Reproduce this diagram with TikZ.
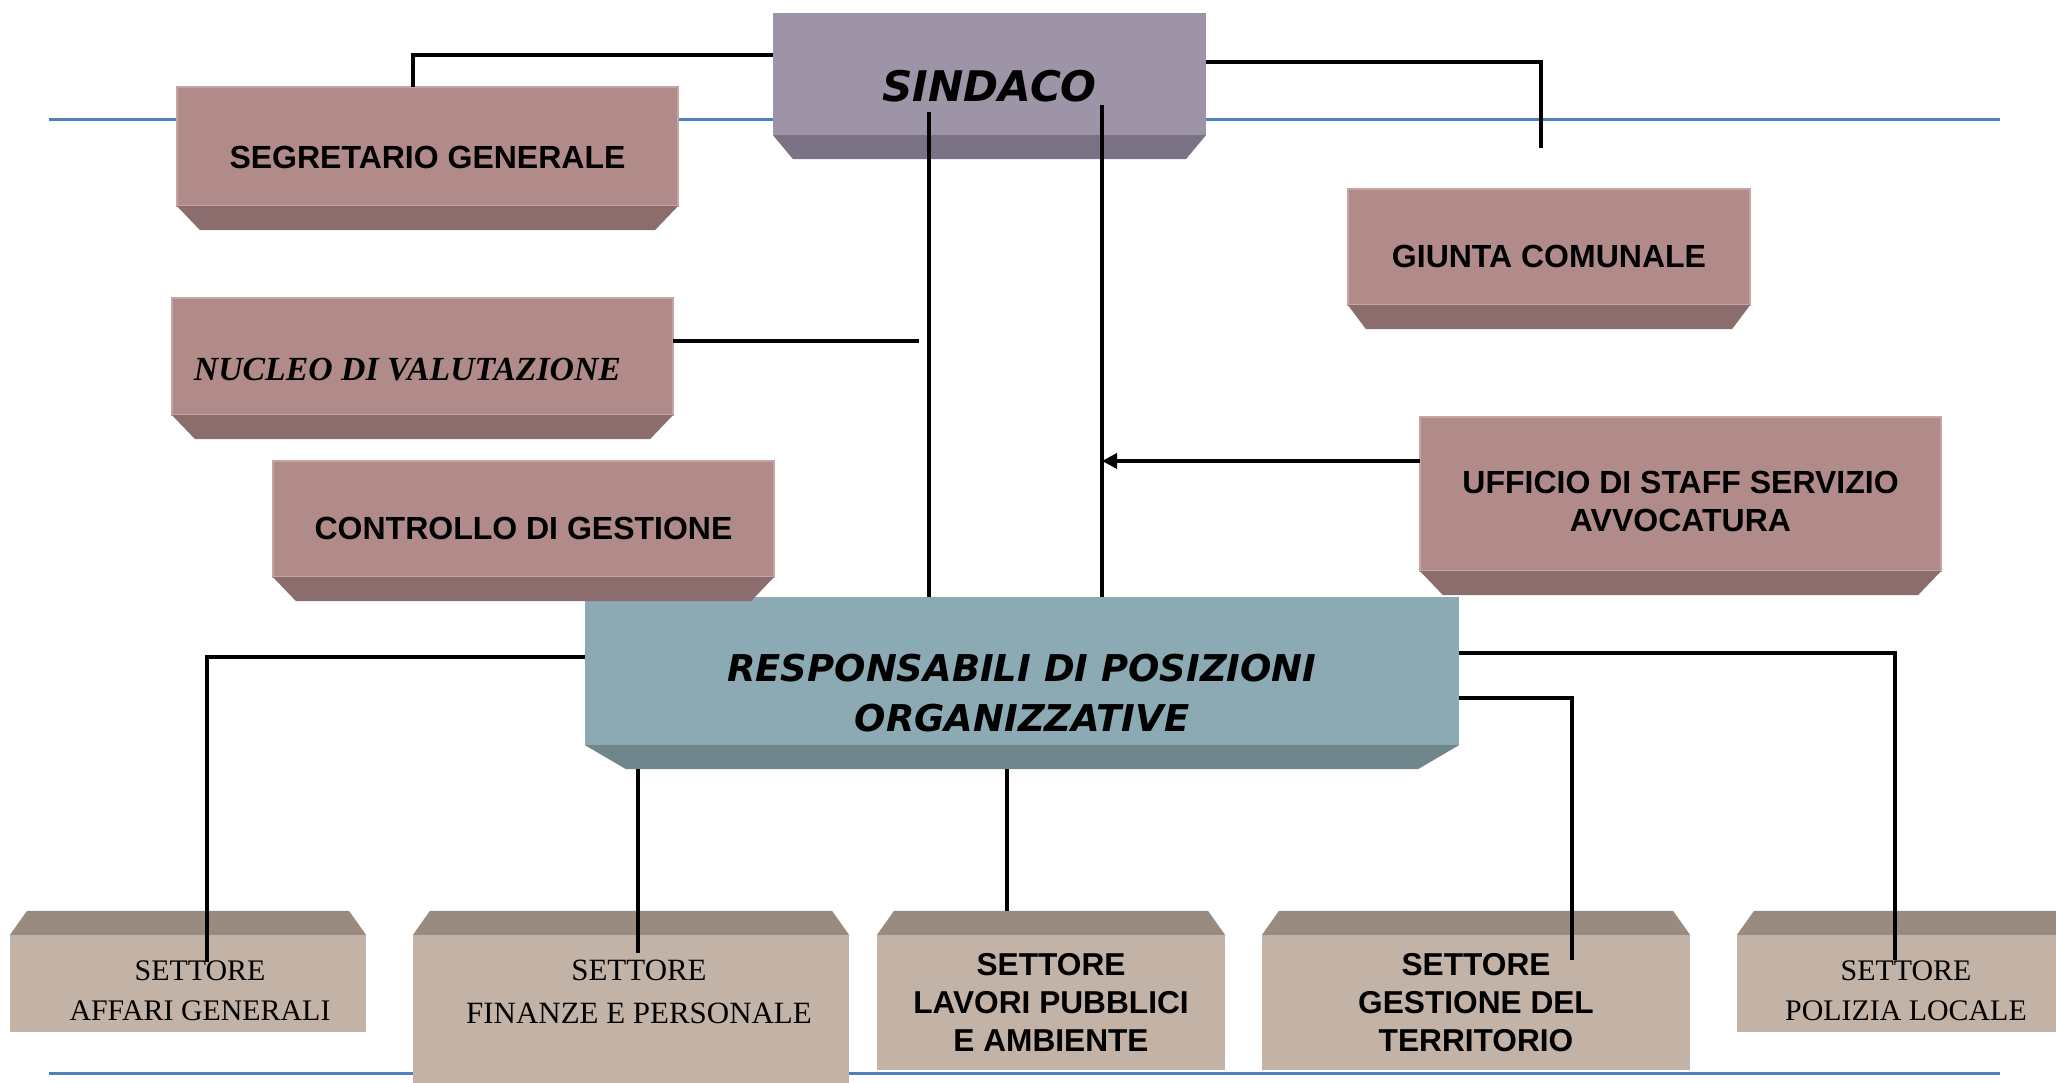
\documentclass[tikz,border=0pt]{standalone}
\usepackage{fontspec}
\setmainfont{Liberation Sans}
\newfontfamily\serifface{Liberation Serif}
\newfontfamily\heavyface{DejaVu Sans}
\usetikzlibrary{calc,arrows.meta}

\definecolor{lavfront}{HTML}{9E94A7}
\definecolor{lavside}{HTML}{7B7385}
\definecolor{pinkfront}{HTML}{B08B8A}
\definecolor{pinkside}{HTML}{8A6D6C}
\definecolor{pinkedge}{HTML}{C7A3A2}
\definecolor{tealfront}{HTML}{8BAAB4}
\definecolor{tealside}{HTML}{6E868C}
\definecolor{tanfront}{HTML}{C3B2A6}
\definecolor{tanside}{HTML}{998B80}
\definecolor{rulecol}{HTML}{4F81BD}

\begin{document}
\begin{tikzpicture}[x=0.01cm,y=-0.01cm,
  box/.style={rectangle,inner sep=0pt,outer sep=0pt,align=center,text depth=0pt},
  lavbox/.style={box,fill=lavfront,font=\heavyface\bfseries\itshape\fontsize{12}{14}\selectfont},
  pinkbox/.style={box,fill=pinkfront,draw=pinkedge,line width=0.4pt,font=\fontsize{9.1}{10}\selectfont\bfseries},
  tealbox/.style={box,fill=tealfront,font=\heavyface\bfseries\itshape\fontsize{10.5}{14.2}\selectfont},
  tanbox/.style={box,fill=tanfront},
  conn/.style={line width=1pt,black},
  rule/.style={line width=0.85pt,rulecol}]
  \useasboundingbox (0,0) rectangle (2056,1083);

  % blue rules behind everything
  \draw[rule] (49,120) -- (2000,120);
  \draw[rule] (49,1074) -- (2000,1074);

  % top level
  \node[lavbox,minimum width=4.33cm,minimum height=1.22cm,text height=15.9pt] (sindaco) at (989.5,74) {SINDACO};
  \node[pinkbox,minimum width=5.01cm,minimum height=1.19cm,text height=12.8pt] (segretario) at (427.5,146.5) {SEGRETARIO GENERALE};
  \node[pinkbox,minimum width=4.02cm,minimum height=1.16cm,text height=11.9pt] (giunta) at (1549,247) {GIUNTA COMUNALE};
  \node[pinkbox,minimum width=5.01cm,minimum height=1.17cm,text height=13.4pt,
        font=\serifface\bfseries\itshape\fontsize{9.6}{11}\selectfont] (nucleo) at (422.5,356.5) {NUCLEO DI VALUTAZIONE\hspace*{3mm}};
  \node[pinkbox,minimum width=5.01cm,minimum height=1.16cm,text height=11.9pt] (controllo) at (523.5,519) {CONTROLLO DI GESTIONE};
  \node[pinkbox,minimum width=5.21cm,minimum height=1.54cm,text height=21.3pt,
        font=\fontsize{9.1}{10.8}\selectfont\bfseries] (ufficio) at (1680.5,494) {UFFICIO DI STAFF SERVIZIO\\AVVOCATURA};
  \node[tealbox,minimum width=8.74cm,minimum height=1.48cm,text height=34.4pt] (resp) at (1022,671) {RESPONSABILI DI POSIZIONI\\ORGANIZZATIVE};

  % settori
  \node[tanbox,minimum width=3.56cm,minimum height=0.97cm,text height=21.3pt,
        font=\serifface\fontsize{8.5}{11.6}\selectfont] (affari) at (188,983.5) {\hspace*{2.4mm}SETTORE\\\hspace*{2.4mm}AFFARI GENERALI};
  \node[tanbox,minimum width=4.36cm,minimum height=1.65cm,text height=3.5pt,
        font=\serifface\fontsize{8.8}{12.3}\selectfont] (finanze) at (631,1017.5) {\hspace*{1.6mm}SETTORE\\\hspace*{1.6mm}FINANZE E PERSONALE};
  \node[tanbox,minimum width=3.48cm,minimum height=1.35cm,text height=27.6pt,
        font=\fontsize{9}{10.7}\selectfont\bfseries] (lavori) at (1051,1002.5) {SETTORE\\LAVORI PUBBLICI\\E AMBIENTE};
  \node[tanbox,minimum width=4.28cm,minimum height=1.35cm,text height=27.6pt,
        font=\fontsize{9}{10.7}\selectfont\bfseries] (territorio) at (1476,1002.5) {SETTORE\\GESTIONE DEL\\TERRITORIO};
  \node[tanbox,minimum width=3.38cm,minimum height=0.97cm,text height=21.3pt,
        font=\serifface\fontsize{8.5}{11.6}\selectfont] (polizia) at (1906,983.5) {SETTORE\\POLIZIA LOCALE};

  % bevels
  \foreach \n/\c/\i in {sindaco/lavside/20, segretario/pinkside/23, giunta/pinkside/18,
      nucleo/pinkside/23, controllo/pinkside/23, ufficio/pinkside/23, resp/tealside/41}
    \fill[\c] (\n.south west) -- (\n.south east) -- ++(-\i,24) -- ($(\n.south west)+(\i,24)$) -- cycle;
  \foreach \n in {affari,finanze,lavori,territorio,polizia}
    \fill[tanside] (\n.north west) -- (\n.north east) -- ++(-17,-24) -- ($(\n.north west)+(17,-24)$) -- cycle;

  % free ends of the connectors
  \coordinate (s1) at (929,112);
  \coordinate (s2) at (1102,105);
  \coordinate (giuntaend) at (1541,148);
  \coordinate (nucleoend) at (919,341);
  \coordinate (rb) at ($(resp.south)+(0,24)$);
  \coordinate (affariend) at (207,962);
  \coordinate (finanzeend) at (638,953);
  \coordinate (lavoritop) at (1007,911);
  \coordinate (terrend) at (1572,960);
  \coordinate (poliziaend) at (1895,960);

  % connectors
  \draw[conn] (sindaco.west |- 0,55) -| (413,0 |- segretario.north);
  \draw[conn] (sindaco.east |- 0,62) -| (giuntaend);
  \draw[conn] (s1) -- (s1 |- resp.north);
  \draw[conn] (s2) -- (s2 |- resp.north);
  \draw[conn] (nucleo.east |- nucleoend) -- (nucleoend);
  \draw[conn,-{Triangle[length=1.5mm,width=1.5mm]}] (ufficio.west |- 0,461) -- (s2 |- 0,461);
  \draw[conn] (resp.west |- 0,657) -| (affariend);
  \draw[conn] (finanzeend |- rb) -- (finanzeend);
  \draw[conn] (lavoritop |- rb) -- (lavoritop);
  \draw[conn] (resp.east |- 0,653) -| (poliziaend);
  \draw[conn] (resp.east |- 0,698) -| (terrend);
\end{tikzpicture}
\end{document}
